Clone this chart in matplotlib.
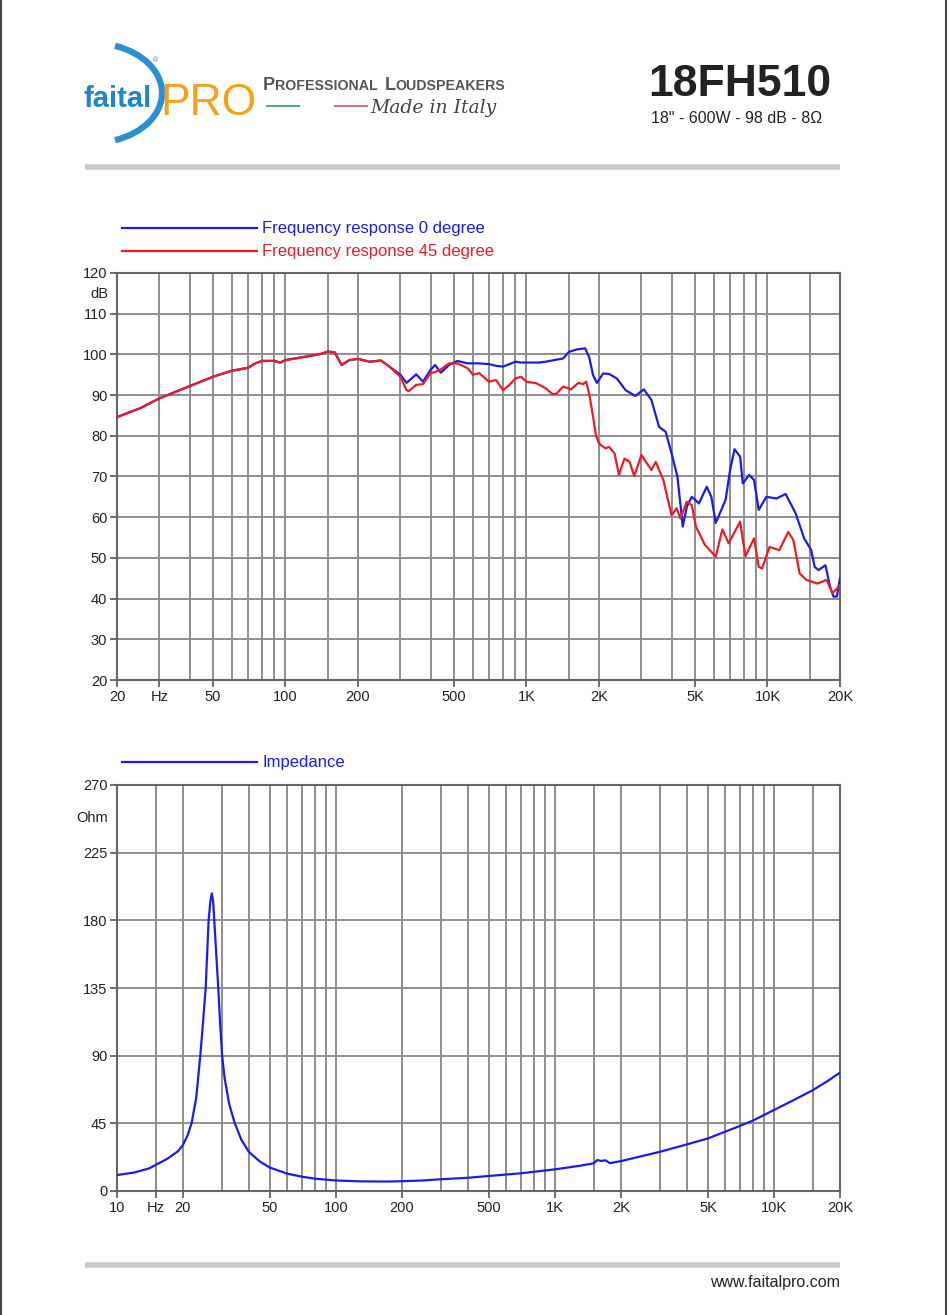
#!/usr/bin/env python3
"""Faital PRO 18FH510 datasheet page: frequency response and impedance."""

import matplotlib
matplotlib.use('Agg')
import matplotlib.pyplot as plt
from matplotlib.patches import Arc
from matplotlib.ticker import FixedLocator, NullLocator

plt.rcParams['font.family'] = ['Liberation Sans', 'DejaVu Sans']

# Both curves overlap below ~270 Hz.
common_freq = [20, 25, 30, 40, 50, 60, 70, 75, 80, 90, 95, 100, 120, 140,
               150, 160, 171, 184, 200, 223, 249, 270]
common_db = [84.6, 86.8, 89.2, 92.2, 94.5, 96.0, 96.7, 97.8, 98.4, 98.4,
             98.0, 98.6, 99.4, 100.1, 100.7, 100.5, 97.4, 98.6, 98.9, 98.2,
             98.5, 97.0]

on_axis_freq = [300, 318, 349, 372, 400, 418, 441, 478, 517, 570, 636, 700,
                748, 800, 900, 950, 1000, 1130, 1200, 1360, 1420, 1500, 1610,
                1750, 1820, 1890, 1960, 2080, 2200, 2370, 2580, 2830, 3070,
                3300, 3550, 3780, 4000, 4230, 4350, 4450, 4630, 4850, 5200,
                5600, 5850, 6100, 6700, 7000, 7300, 7700, 7900, 8400, 8800,
                9200, 9900, 10900, 11900, 13100, 14200, 15200, 15700, 16300,
                17400, 18200, 18800, 19400, 20000]
on_axis_db = [95.0, 93.0, 95.1, 93.3, 96.2, 97.4, 95.5, 97.4, 98.4, 97.8,
              97.8, 97.6, 97.2, 97.0, 98.2, 98.0, 98.0, 98.0, 98.2, 98.8,
              99.0, 100.6, 101.2, 101.5, 99.4, 94.9, 93.0, 95.3, 95.2, 94.1,
              91.2, 89.8, 91.4, 88.8, 82.2, 81.0, 75.7, 70.0, 63.4, 57.7,
              62.6, 65.0, 63.4, 67.5, 65.0, 58.6, 64.2, 71.6, 76.7, 74.9,
              68.3, 70.4, 69.1, 61.8, 65.0, 64.6, 65.7, 60.9, 54.8, 51.9,
              47.8, 47.0, 48.2, 42.9, 40.5, 40.5, 45.0]

off_axis_freq = [300, 318, 325, 349, 372, 400, 418, 441, 478, 517, 570, 600,
                 636, 700, 748, 800, 850, 900, 950, 1000, 1100, 1200, 1280,
                 1330, 1420, 1530, 1640, 1720, 1770, 1820, 1890, 1940, 2000,
                 2130, 2200, 2320, 2420, 2550, 2680, 2800, 3000, 3130, 3300,
                 3440, 3700, 4000, 4200, 4350, 4630, 4850, 5050, 5500, 6100,
                 6500, 6900, 7700, 8100, 8800, 9200, 9500, 10200, 11200,
                 12200, 12800, 13600, 14500, 16100, 17600, 18600, 20000]
off_axis_db = [94.5, 91.2, 91.0, 92.5, 92.7, 95.4, 95.7, 96.3, 97.8, 97.8,
               96.6, 95.0, 95.4, 93.3, 93.7, 91.2, 92.5, 94.1, 94.5, 93.3,
               92.9, 91.7, 90.3, 90.3, 92.1, 91.4, 93.0, 92.7, 93.3, 90.4,
               84.7, 80.2, 78.1, 76.9, 77.3, 75.7, 70.4, 74.4, 73.6, 70.1,
               75.3, 73.6, 71.6, 73.6, 69.1, 60.5, 62.2, 59.7, 63.8, 63.0,
               57.7, 53.2, 50.3, 57.0, 53.6, 58.9, 50.4, 54.8, 47.8, 47.4,
               52.7, 51.9, 56.4, 54.4, 46.2, 44.6, 43.7, 44.6, 41.3, 43.3]

imp_freq = [10, 12, 14, 15, 17, 19, 20, 21, 21.9, 23, 24, 24.7, 25.4, 26.2,
            26.7, 27.1, 27.5, 27.8, 28.4, 29.0, 29.6, 30.2, 31, 32.5, 34.5,
            37, 40, 45, 50, 60, 70, 80, 100, 130, 170, 200, 250, 300, 400,
            500, 700, 1000, 1300, 1500, 1560, 1620, 1700, 1780, 1900, 2000,
            3000, 4000, 5000, 6500, 8000, 10000, 12500, 15000, 17500, 20000]
imp_ohm = [10.6, 12.3, 15.0, 17.3, 21.5, 26.5, 30.6, 37.0, 45.0, 62.0, 90.0,
           112.0, 135.0, 180.0, 193.0, 198.0, 192.0, 180.0, 157.0, 135.0,
           110.0, 90.0, 75.0, 58.0, 45.0, 34.0, 26.0, 19.5, 15.5, 11.5, 9.5,
           8.2, 7.0, 6.4, 6.3, 6.5, 7.0, 7.8, 8.8, 10.0, 11.8, 14.4, 16.8,
           18.4, 20.6, 20.0, 20.4, 18.5, 19.3, 19.9, 26.0, 31.0, 35.0, 41.5,
           46.8, 53.9, 61.0, 67.0, 73.0, 78.7]

fr_grid_freq = [20, 30, 40, 50, 60, 70, 80, 90, 100, 150, 200, 300, 400, 500,
                600, 700, 800, 900, 1000, 1500, 2000, 3000, 4000, 5000, 6000,
                7000, 8000, 9000, 10000, 15000, 20000]
fr_tick_freq = [20, 30, 50, 100, 200, 500, 1000, 2000, 5000, 10000, 20000]
fr_tick_labels = ['20', 'Hz', '50', '100', '200', '500', '1K', '2K', '5K',
                  '10K', '20K']
db_ticks = [20, 30, 40, 50, 60, 70, 80, 90, 100, 110, 120]

imp_grid_freq = [10, 15, 20, 30, 40, 50, 60, 70, 80, 90, 100, 200, 300, 400,
                 500, 600, 700, 800, 900, 1000, 1500, 2000, 3000, 4000, 5000,
                 6000, 7000, 8000, 9000, 10000, 15000, 20000]
imp_tick_freq = [10, 15, 20, 50, 100, 200, 500, 1000, 2000, 5000, 10000,
                 20000]
imp_tick_labels = ['10', 'Hz', '20', '50', '100', '200', '500', '1K', '2K',
                   '5K', '10K', '20K']
ohm_ticks = [0, 45, 90, 135, 180, 225, 270]

BLUE = '#1c1ce8'
RED = '#ec1c24'
GRID = '#8e8e8e'
TEXT = '#222222'


def style_chart(ax, grid_freq, tick_freq, tick_labels, yticks):
    """Log frequency axis with the datasheet style grid."""
    ax.set_xscale('log')
    ax.set_xlim(grid_freq[0], grid_freq[-1])
    ax.set_ylim(yticks[0], yticks[-1])
    for f in grid_freq:
        ax.axvline(f, color=GRID, lw=1.4, zorder=1)
    for v in yticks:
        ax.axhline(v, color=GRID, lw=1.4, zorder=1)
    ax.xaxis.set_major_locator(FixedLocator(tick_freq))
    ax.xaxis.set_minor_locator(NullLocator())
    ax.set_xticklabels(tick_labels)
    ax.set_yticks(yticks)
    ax.tick_params(axis='both', direction='out', length=5, width=1.2,
                   color='#555555', labelsize=10.5, labelcolor=TEXT, pad=2)
    for spine in ax.spines.values():
        spine.set_color('#666666')
        spine.set_linewidth(1.5)


def small_caps(ax, x, y, text, big, small, **kw):
    """Fake small caps: first letter of each word larger."""
    renderer = ax.figure.canvas.get_renderer()
    for word in text.split(' '):
        for size, part in ((big, word[0]), (small, word[1:])):
            t = ax.text(x, y, part, fontsize=size, va='baseline', **kw)
            x += t.get_window_extent(renderer).width
        x += 7


fig = plt.figure(figsize=(9.5, 13.15), dpi=100)

# Page layer in pixel coordinates.
page = fig.add_axes([0, 0, 1, 1])
page.set_xlim(0, 950)
page.set_ylim(1315, 0)
page.axis('off')

page.plot([1, 1], [0, 1315], color='#444444', lw=1.5)
page.plot([946, 946], [0, 1315], color='#444444', lw=1.5)
page.plot([85, 840], [167, 167], color='#c8c8c8', lw=4, solid_capstyle='butt')
page.plot([85, 840], [1265, 1265], color='#c8c8c8', lw=4,
          solid_capstyle='butt')

# Logo
page.add_patch(Arc((92, 93), 140, 100, theta1=-64, theta2=64,
                   color='#2a8fd4', lw=4.5))
page.add_patch(Arc((100, 93), 126, 94, theta1=-70, theta2=56,
                   color='#2a8fd4', lw=2.5))
page.text(83, 107, 'faital', fontsize=21, fontweight='bold',
          color='#1f86c9', va='baseline')
page.text(160, 115, 'PRO', fontsize=32, color='#f4a11c', va='baseline',
          fontweight='light')
page.text(153, 62, '®', fontsize=5, color='#1f86c9')

small_caps(page, 263, 90, 'PROFESSIONAL LOUDSPEAKERS', 13, 10.2,
           color='#555555', fontweight='bold')
page.plot([267, 299], [106, 106], color='#5aa77a', lw=1.5)
page.plot([335, 367], [106, 106], color='#d9707a', lw=1.5)
page.text(370, 113, 'Made in Italy', fontsize=13.5, color='#444444',
          va='baseline', family='DejaVu Serif', style='italic')

page.text(831, 96, '18FH510', fontsize=32, fontweight='bold', color=TEXT,
          ha='right', va='baseline')
page.text(822, 123, '18" - 600W - 98 dB - 8Ω', fontsize=11.5, color=TEXT,
          ha='right', va='baseline')
page.text(840, 1287, 'www.faitalpro.com', fontsize=11.5, color=TEXT,
          ha='right', va='baseline')

# Legends
page.plot([122, 257], [228, 228], color=BLUE, lw=1.6)
page.text(262, 228, 'Frequency response 0 degree', fontsize=12, color=BLUE,
          va='center')
page.plot([122, 257], [251, 251], color=RED, lw=1.6)
page.text(262, 251, 'Frequency response 45 degree', fontsize=12, color=RED,
          va='center')
page.plot([122, 257], [762, 762], color=BLUE, lw=1.6)
page.text(262, 762, 'Impedance', fontsize=12, color=BLUE, va='center')

# Frequency response
ax1 = fig.add_axes([117 / 950, 1 - 680 / 1315, 723 / 950, 407 / 1315])
style_chart(ax1, fr_grid_freq, fr_tick_freq, fr_tick_labels, db_ticks)
ax1.plot(common_freq + on_axis_freq, common_db + on_axis_db, color=BLUE,
         lw=1.6, zorder=3)
ax1.plot(common_freq + off_axis_freq, common_db + off_axis_db, color=RED,
         lw=1.6, zorder=4)
page.text(108, 294, 'dB', fontsize=10.5, color=TEXT, ha='right',
          va='center')

# Impedance
ax2 = fig.add_axes([117 / 950, 1 - 1191 / 1315, 723 / 950, 406 / 1315])
style_chart(ax2, imp_grid_freq, imp_tick_freq, imp_tick_labels, ohm_ticks)
ax2.plot(imp_freq, imp_ohm, color=BLUE, lw=1.6, zorder=3)
page.text(108, 818, 'Ohm', fontsize=10.5, color=TEXT, ha='right',
          va='center')

fig.savefig('out.png', dpi=100)
